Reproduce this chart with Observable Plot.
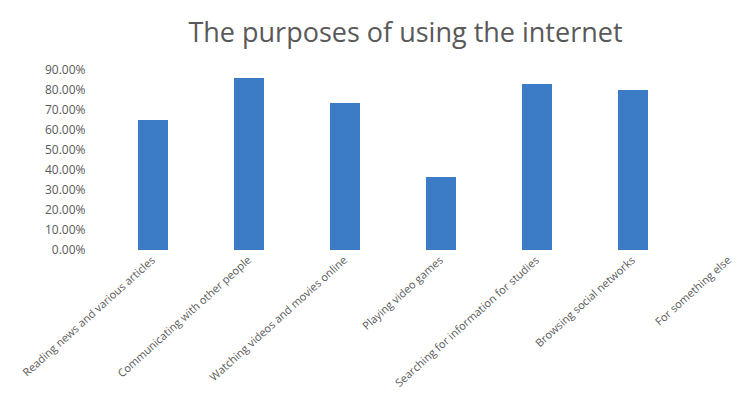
<!DOCTYPE html>
<html>
<head>
<meta charset="utf-8">
<script src="https://cdn.jsdelivr.net/npm/d3@7"></script>
<script src="https://cdn.jsdelivr.net/npm/@observablehq/plot@0.6"></script>
<style>
  body { margin: 0; background: #fff; width: 741px; height: 400px; overflow: hidden; font-family: "Open Sans", "Liberation Sans", sans-serif; }
  #title { height: 50px; line-height: 64px; text-align: center; font-size: 27px; color: #595959; padding-left: 70px; white-space: nowrap; }
</style>
</head>
<body>
<div id="title">The purposes of using the internet</div>
<div id="chart"></div>
<script>
const categories = [
  "Reading news and various articles",
  "Communicating with other people",
  "Watching videos and movies online",
  "Playing video games",
  "Searching for information for studies",
  "Browsing social networks",
  "For something else"
];
const shares = [0.65, 0.86, 0.735, 0.365, 0.83, 0.80, 0];
const yTicks = [0, 0.1, 0.2, 0.3, 0.4, 0.5, 0.6, 0.7, 0.8, 0.9];

const data = categories.map((c, i) => ({category: c, share: shares[i]}));

const chart = Plot.plot({
  width: 741,
  height: 350,
  marginTop: 20,
  marginBottom: 150,
  marginLeft: 101,
  marginRight: 0,
  style: {fontSize: "11px", color: "#595959", fontFamily: "'Open Sans', 'Liberation Sans', sans-serif"},
  x: {domain: categories, range: [86.5, 795], paddingInner: 0.69, paddingOuter: 0.5, label: null},
  y: {domain: [0, 0.9], label: null},
  marks: [
    Plot.barY(data, {x: "category", y: "share", fill: "#3c7bc5"}),
    Plot.axisX({tickSize: 0, tickRotate: -42, tickPadding: 8, label: null}),
    Plot.axisY({ticks: yTicks, tickFormat: d3.format(".2%"), tickSize: 0, tickPadding: 16, label: null, fontSize: 12})
  ]
});
document.getElementById("chart").appendChild(chart);
</script>
</body>
</html>
